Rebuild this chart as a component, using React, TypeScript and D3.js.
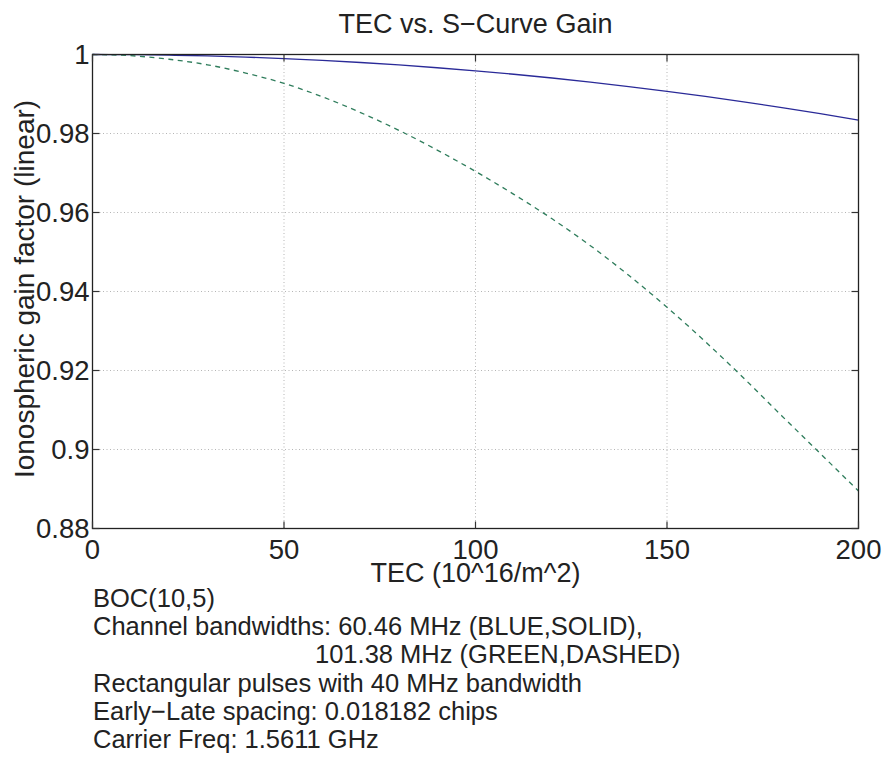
import React, { useEffect, useRef } from "react";
import * as d3 from "d3";

const TEC = [0, 10, 20, 30, 40, 50, 60, 70, 80, 90, 100, 110, 120, 130, 140, 150, 160, 170, 180, 190, 200];
const GAIN_60 = [1.0, 0.99996, 0.99983, 0.99963, 0.99934, 0.99897, 0.99851, 0.99797, 0.99735, 0.99664, 0.99587, 0.995, 0.99405, 0.99302, 0.99189, 0.99069, 0.9894, 0.98803, 0.98657, 0.98503, 0.9834];
const GAIN_101 = [1.0, 0.9997, 0.9988, 0.9974, 0.9953, 0.9927, 0.9893, 0.9853, 0.9808, 0.9758, 0.9704, 0.9646, 0.9584, 0.9516, 0.9441, 0.936, 0.9273, 0.9181, 0.9085, 0.899, 0.8895];
const X_TICKS = [0, 50, 100, 150, 200];
const Y_TICKS = [0.88, 0.9, 0.92, 0.94, 0.96, 0.98, 1];
const Y_TICK_LABELS = ["0.88", "0.9", "0.92", "0.94", "0.96", "0.98", "1"];
const TITLE = "TEC vs. S\u2212Curve Gain";
const X_LABEL = "TEC (10^16/m^2)";
const Y_LABEL = "Ionospheric gain factor (linear)";
const NOTES = [
  { text: "BOC(10,5)", indent: 0 },
  { text: "Channel bandwidths: 60.46 MHz (BLUE,SOLID),", indent: 0 },
  { text: "101.38 MHz (GREEN,DASHED)", indent: 1 },
  { text: "Rectangular pulses with 40 MHz bandwidth", indent: 0 },
  { text: "Early\u2212Late spacing: 0.018182 chips", indent: 0 },
  { text: "Carrier Freq: 1.5611 GHz", indent: 0 },
];

const W = 886;
const H = 758;
const M = { left: 92.5, top: 54.5, right: 858.5, bottom: 528.5 };
const FONT = "'Liberation Sans', Arial, Helvetica, sans-serif";
const TXT = "#222";

export default function App() {
  const ref = useRef<SVGSVGElement>(null);
  useEffect(() => {
    const svg = d3.select(ref.current);
    svg.selectAll("*").remove();
    const x = d3.scaleLinear().domain([0, 200]).range([M.left, M.right]);
    const y = d3.scaleLinear().domain([0.88, 1]).range([M.bottom, M.top]);

    svg.append("rect").attr("x", 0).attr("y", 0).attr("width", W).attr("height", H).attr("fill", "#fff");

    // grid
    const g = svg.append("g");
    Y_TICKS.filter((t) => t > 0.88 && t < 1).forEach((t) => {
      g.append("line").attr("x1", M.left).attr("x2", M.right).attr("y1", y(t)).attr("y2", y(t))
        .attr("stroke", "#b5b5b5").attr("stroke-width", 1).attr("stroke-dasharray", "1,2.5");
    });
    X_TICKS.filter((t) => t > 0 && t < 200).forEach((t) => {
      g.append("line").attr("y1", M.top).attr("y2", M.bottom).attr("x1", x(t)).attr("x2", x(t))
        .attr("stroke", "#b5b5b5").attr("stroke-width", 1).attr("stroke-dasharray", "1,2.5");
    });

    // lines
    const line = d3.line<number>().x((_, i) => x(TEC[i])).curve(d3.curveMonotoneX);
    svg.append("path").datum(GAIN_60).attr("d", line.y((d) => y(d))).attr("fill", "none")
      .attr("stroke", "#2a2a98").attr("stroke-width", 1.3);
    svg.append("path").datum(GAIN_101).attr("d", line.y((d) => y(d))).attr("fill", "none")
      .attr("stroke", "#2f7d5c").attr("stroke-width", 1.3).attr("stroke-dasharray", "5,4.5");

    // box
    svg.append("rect").attr("x", M.left).attr("y", M.top).attr("width", M.right - M.left).attr("height", M.bottom - M.top)
      .attr("fill", "none").attr("stroke", "#222").attr("stroke-width", 1.3);

    // ticks
    const tl = 7;
    const tk = svg.append("g").attr("stroke", "#333").attr("stroke-width", 1.2);
    Y_TICKS.forEach((t) => {
      tk.append("line").attr("x1", M.left).attr("x2", M.left + tl).attr("y1", y(t)).attr("y2", y(t));
      tk.append("line").attr("x1", M.right).attr("x2", M.right - tl).attr("y1", y(t)).attr("y2", y(t));
    });
    X_TICKS.forEach((t) => {
      tk.append("line").attr("x1", x(t)).attr("x2", x(t)).attr("y1", M.bottom).attr("y2", M.bottom - tl);
      tk.append("line").attr("x1", x(t)).attr("x2", x(t)).attr("y1", M.top).attr("y2", M.top + tl);
    });

    const fs = 27.5;
    Y_TICKS.forEach((t, i) => {
      svg.append("text").attr("x", M.left - 3).attr("y", y(t)).attr("dy", "0.36em").attr("text-anchor", "end")
        .attr("font-family", FONT).attr("font-size", fs).attr("fill", TXT).text(Y_TICK_LABELS[i]);
    });
    X_TICKS.forEach((t) => {
      svg.append("text").attr("x", x(t)).attr("y", 559).attr("text-anchor", "middle")
        .attr("font-family", FONT).attr("font-size", fs).attr("fill", TXT).text(String(t));
    });

    svg.append("text").attr("x", (M.left + M.right) / 2).attr("y", 33).attr("text-anchor", "middle")
      .attr("font-family", FONT).attr("font-size", 27).attr("fill", TXT).text(TITLE);
    svg.append("text").attr("x", (M.left + M.right) / 2).attr("y", 582).attr("text-anchor", "middle")
      .attr("font-family", FONT).attr("font-size", 27).attr("fill", TXT).text(X_LABEL);
    svg.append("text").attr("transform", `translate(34,289) rotate(-90)`).attr("text-anchor", "middle")
      .attr("font-family", FONT).attr("font-size", 28).attr("fill", TXT).text(Y_LABEL);

    NOTES.forEach((n, i) => {
      svg.append("text").attr("x", n.indent ? 315 : 93).attr("y", 606.7 + i * 28.3)
        .attr("font-family", FONT).attr("font-size", 25.5).attr("fill", TXT).text(n.text);
    });
  }, []);
  return (
    <div style={{ position: "fixed", left: 0, top: 0 }}>
      <svg ref={ref} width={W} height={H} style={{ display: "block" }} />
    </div>
  );
}
